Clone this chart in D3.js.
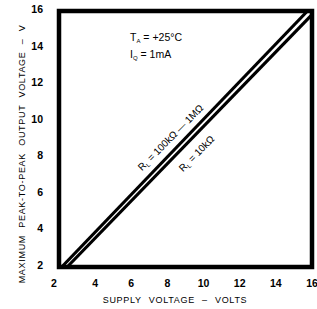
<!DOCTYPE html>
<html>
<head>
<meta charset="utf-8">
<script src="https://cdn.jsdelivr.net/npm/d3@7"></script>
<style>
  body { margin: 0; background: #fff; }
  text { font-family: "Liberation Sans", Arial, sans-serif; fill: #000; }
</style>
</head>
<body>
<div id="container"></div>
<script>
//tick values for both axes
var xTicks = [2, 4, 6, 8, 10, 12, 14, 16];
var yTicks = [2, 4, 6, 8, 10, 12, 14, 16];

//curve data (supply V, max p-p output V)
var supplyHigh = [2.15, 15.75];
var outHigh = [2.0, 16.0];
var supplyLow = [2.45, 16.0];
var outLow = [2.0, 15.8];

var width = 317, height = 309;
var margin = {top: 11, right: 5, bottom: 42, left: 59};

var svg = d3.select("#container")
  .append("svg")
  .attr("width", width)
  .attr("height", height);

var x = d3.scaleLinear().domain([2, 16]).range([margin.left, width - margin.right]);
var y = d3.scaleLinear().domain([2, 16]).range([height - margin.bottom, margin.top]);

//frame
svg.append("rect")
  .attr("x", x(2))
  .attr("y", y(16))
  .attr("width", x(16) - x(2))
  .attr("height", y(2) - y(16))
  .attr("fill", "none")
  .attr("stroke", "#000")
  .attr("stroke-width", 4.5);

//x tick labels
svg.append("g")
  .selectAll("text")
  .data(xTicks)
  .enter().append("text")
  .attr("x", function(d) { return x(d) + (d == 2 ? -5 : 0); })
  .attr("y", 287)
  .attr("text-anchor", "middle")
  .style("font-size", "10.5px")
  .style("font-weight", "bold")
  .text(function(d) { return d; });

//y tick labels
svg.append("g")
  .selectAll("text")
  .data(yTicks)
  .enter().append("text")
  .attr("x", 43)
  .attr("y", function(d) { return y(d) + 2; })
  .attr("text-anchor", "end")
  .style("font-size", "10.5px")
  .style("font-weight", "bold")
  .text(function(d) { return d; });

//the two curves
var line = d3.line().x(function(d) { return x(d[0]); }).y(function(d) { return y(d[1]); });
[[supplyHigh, outHigh], [supplyLow, outLow]].forEach(function(s) {
  svg.append("path")
    .datum(d3.zip(s[0], s[1]))
    .attr("d", line)
    .attr("fill", "none")
    .attr("stroke", "#000")
    .attr("stroke-width", 3.2);
});

//conditions
var cond = svg.append("text").attr("x", 130).attr("y", 41).style("font-size", "10.5px");
cond.append("tspan").text("T");
cond.append("tspan").attr("dy", 2).style("font-size", "6px").text("A");
cond.append("tspan").attr("dy", -2).text(" = +25°C");
var cond2 = svg.append("text").attr("x", 130).attr("y", 58).style("font-size", "10.5px");
cond2.append("tspan").text("I");
cond2.append("tspan").attr("dy", 2).style("font-size", "6px").text("Q");
cond2.append("tspan").attr("dy", -2).text(" = 1mA");

//curve labels along the lines
var ang = -Math.atan2(y(2) - y(16), x(16) - x(2)) * 180 / Math.PI;
var l1 = svg.append("text")
  .attr("transform", "translate(173,140) rotate(" + ang + ")")
  .attr("text-anchor", "middle")
  .style("font-size", "10px");
l1.append("tspan").text("R");
l1.append("tspan").attr("dy", 2).style("font-size", "6px").text("L");
l1.append("tspan").attr("dy", -2).text(" = 100kΩ — 1MΩ");

var l2 = svg.append("text")
  .attr("transform", "translate(199,156) rotate(" + ang + ")")
  .attr("text-anchor", "middle")
  .style("font-size", "10px");
l2.append("tspan").text("R");
l2.append("tspan").attr("dy", 2).style("font-size", "6px").text("L");
l2.append("tspan").attr("dy", -2).text(" = 10kΩ");

//axis titles
svg.append("text")
  .attr("x", 175)
  .attr("y", 303)
  .attr("text-anchor", "middle")
  .style("font-size", "9px")
  .style("letter-spacing", "0.7px")
  .style("word-spacing", "4px")
  .text("SUPPLY VOLTAGE – VOLTS");

svg.append("text")
  .attr("transform", "translate(25,154) rotate(-90)")
  .attr("text-anchor", "middle")
  .style("font-size", "9px")
  .style("letter-spacing", "0.7px")
  .style("word-spacing", "4px")
  .text("MAXIMUM PEAK-TO-PEAK OUTPUT VOLTAGE – V");
</script>
</body>
</html>
